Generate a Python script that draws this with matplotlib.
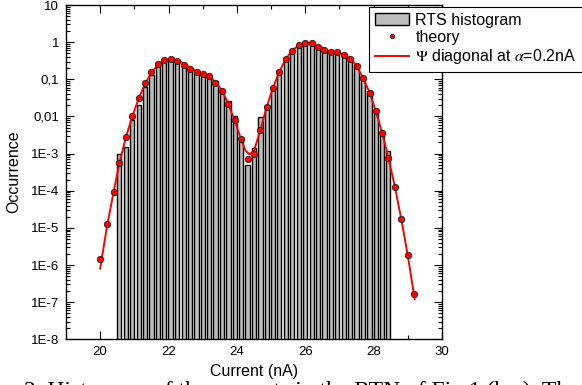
import matplotlib
matplotlib.use("Agg")
import matplotlib.pyplot as plt
from matplotlib.ticker import FixedLocator, FixedFormatter, LogLocator, NullFormatter

plt.rcParams['font.family'] = ['Liberation Sans', 'DejaVu Sans']
plt.rcParams['mathtext.fontset'] = 'stix'

# theory points (current in nA, occurrence)
theory_x = [20.00, 20.20, 20.39, 20.56, 20.75, 20.94, 21.13, 21.32, 21.50, 21.69,
            21.87, 22.06, 22.24, 22.45, 22.63, 22.82, 23.00, 23.19, 23.37, 23.57,
            23.75, 23.94, 24.13, 24.31, 24.50, 24.69, 24.87, 25.06, 25.24, 25.43,
            25.61, 25.81, 26.00, 26.19, 26.37, 26.56, 26.75, 26.93, 27.13, 27.31,
            27.50, 27.69, 27.88, 28.06, 28.25, 28.43, 28.62, 28.81, 29.00, 29.18]
theory_y = [1.41e-6, 1.26e-5, 9.3e-5, 5.6e-4, 2.75e-3, 1.02e-2, 3.16e-2, 8.1e-2, 0.158, 0.257,
            0.339, 0.347, 0.309, 0.240, 0.186, 0.155, 0.135, 0.123, 0.081, 0.047,
            0.0214, 7.9e-3, 2.4e-3, 7.1e-4, 9.5e-4, 4.3e-3, 0.0178, 0.059, 0.158, 0.347,
            0.589, 0.832, 0.966, 0.933, 0.759, 0.631, 0.550, 0.537, 0.457, 0.355,
            0.229, 0.107, 0.0437, 0.0141, 3.6e-3, 7.8e-4, 1.29e-4, 1.74e-5, 1.86e-6, 1.66e-7]

# Psi diagonal curve
curve_x = [20.00, 20.20, 20.39, 20.56, 20.75, 20.94, 21.13, 21.32, 21.50, 21.69,
           21.87, 22.06, 22.24, 22.45, 22.63, 22.82, 23.00, 23.19, 23.37, 23.57,
           23.75, 23.94, 24.13, 24.25, 24.37, 24.50, 24.69, 24.87, 25.06, 25.24, 25.43,
           25.61, 25.81, 26.00, 26.19, 26.37, 26.56, 26.75, 26.93, 27.13, 27.31,
           27.50, 27.69, 27.88, 28.06, 28.25, 28.43, 28.62, 28.81, 29.00, 29.20]
curve_y = [8.0e-7, 1.1e-5, 9.0e-5, 5.4e-4, 2.7e-3, 1.0e-2, 3.1e-2, 7.8e-2, 0.150, 0.245,
           0.320, 0.355, 0.330, 0.265, 0.205, 0.165, 0.140, 0.120, 0.085, 0.049,
           0.0215, 7.5e-3, 2.3e-3, 1.2e-3, 9.5e-4, 1.2e-3, 4.4e-3, 0.0180, 0.060, 0.160, 0.350,
           0.590, 0.820, 0.940, 0.925, 0.780, 0.640, 0.560, 0.530, 0.460, 0.360,
           0.232, 0.108, 0.0440, 0.0142, 3.6e-3, 7.8e-4, 1.3e-4, 1.7e-5, 1.8e-6, 1.2e-7]

# RTS histogram bars
hist_x = theory_x[3:46]
hist_y = [9.5e-4, 1.55e-3, 7.9e-3, 0.020, 0.063, 0.132, 0.240, 0.316, 0.339, 0.302,
          0.240, 0.191, 0.158, 0.145, 0.126, 0.089, 0.052, 0.026, 0.010, 2.8e-3,
          5.0e-4, 1.4e-3, 9.5e-3, 0.020, 0.063, 0.151, 0.316, 0.525, 0.794, 0.933,
          0.912, 0.759, 0.631, 0.550, 0.525, 0.468, 0.347, 0.240, 0.112, 0.048,
          0.0158, 3.98e-3, 1.17e-3]

y_ticks = [10, 1, 0.1, 0.01, 1e-3, 1e-4, 1e-5, 1e-6, 1e-7, 1e-8]
y_ticklabels = ["10", "1", "0,1", "0,01", "1E-3", "1E-4", "1E-5", "1E-6", "1E-7", "1E-8"]
x_ticks = [20, 22, 24, 26, 28, 30]

fig = plt.figure(figsize=(5.82, 3.85), dpi=100)
ax = fig.add_axes([66/582, 1-339.3/385, (442-66)/582, (339.3-5)/385])

bottom = 1e-10
bars = ax.bar(hist_x, [h - bottom for h in hist_y], bottom=bottom, width=0.125,
              color='#bdbdbd', edgecolor='black', linewidth=1.0, zorder=2)
line, = ax.plot(curve_x, curve_y, color='#ff0000', lw=1.4, zorder=3)
pts, = ax.plot(theory_x, theory_y, 'o', color='#ff0000', mec='#202020', mew=0.6, ms=4.6,
               zorder=4)

ax.set_yscale('log')
ax.set_xlim(19, 30)
ax.set_ylim(1e-8, 10)

ax.yaxis.set_major_locator(FixedLocator(y_ticks))
ax.yaxis.set_major_formatter(FixedFormatter(y_ticklabels))
ax.yaxis.set_minor_locator(LogLocator(base=10, subs=range(2, 10), numticks=20))
ax.yaxis.set_minor_formatter(NullFormatter())
ax.set_xticks(x_ticks)
ax.set_xticks(range(19, 31), minor=True)

ax.tick_params(which='both', direction='in', top=True, right=True, labelsize=9.5, width=0.8)
ax.tick_params(which='major', length=6, pad=5)
ax.tick_params(which='minor', length=3)
for s in ax.spines.values():
    s.set_linewidth(1.0)

ax.set_xlabel('Current (nA)', fontsize=11.5, labelpad=4)
ax.set_ylabel('Occurrence', fontsize=11.5, labelpad=7)

leg = fig.legend([bars, pts, line],
                 ['RTS histogram', 'theory', r'$\mathrm{\Psi}$ diagonal at $\alpha$=0.2nA'],
                 loc='upper left', bbox_to_anchor=(369/582, 1-7/385),
                 fontsize=11.5, frameon=True, fancybox=False, framealpha=1,
                 edgecolor='black', borderaxespad=0, borderpad=0.35,
                 handlelength=2.15, handletextpad=0.4, labelspacing=0.15, markerscale=0.7)
leg.get_frame().set_linewidth(0.8)

fig.text(24/582, -12/385, '2. Histogram of the currents in the RTN of Fig.1 (b,c). The',
         family=['Liberation Serif', 'DejaVu Serif'], fontsize=17, va='baseline', ha='left')

fig.savefig('out.png', dpi=100)
